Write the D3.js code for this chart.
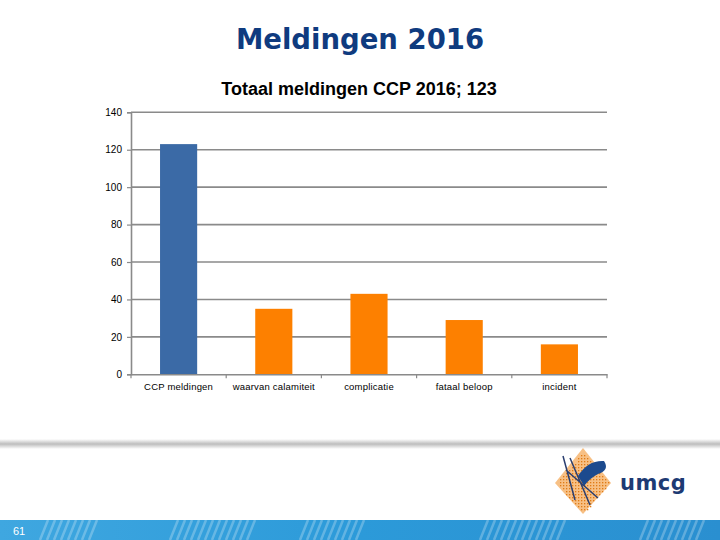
<!DOCTYPE html>
<html><head><meta charset="utf-8">
<script src="https://cdn.jsdelivr.net/npm/d3@7"></script>
<style>html,body{margin:0;padding:0;background:#fff;}svg{display:block;}</style>
</head><body>
<script>
const categories = ["CCP meldingen","waarvan calamiteit","complicatie","fataal beloop","incident"];
const values = [123, 35, 43, 29, 16];
const barColors = ["#3b6aa6","#fd8000","#fd8000","#fd8000","#fd8000"];
const yTicks = [0,20,40,60,80,100,120,140];
const title = "Meldingen 2016";
const subtitle = "Totaal meldingen CCP 2016; 123";
const pageNumber = "61";

const W=720,H=540;
const svg=d3.select("body").append("svg").attr("width",W).attr("height",H);
const defs=svg.append("defs");

const g1=defs.append("linearGradient").attr("id","band").attr("x1","0").attr("x2","1");
g1.append("stop").attr("offset","0").attr("stop-color","#3fa7e0");
g1.append("stop").attr("offset","0.5").attr("stop-color","#2c9ad9");
g1.append("stop").attr("offset","1").attr("stop-color","#2a8fd0");
const g2=defs.append("linearGradient").attr("id","shadow").attr("x1","0").attr("x2","0").attr("y1","0").attr("y2","1");
g2.append("stop").attr("offset","0").attr("stop-color","#ffffff");
g2.append("stop").attr("offset","0.5").attr("stop-color","#bdbdbd");
g2.append("stop").attr("offset","1").attr("stop-color","#ffffff");

svg.append("text").attr("x",360).attr("y",49).attr("text-anchor","middle")
  .attr("font-family","DejaVu Sans, Verdana, sans-serif").attr("font-weight","bold")
  .attr("font-size",27.5).attr("fill","#0f3b7f").text(title);
svg.append("text").attr("x",359).attr("y",95).attr("text-anchor","middle")
  .attr("font-family","Liberation Sans, Arial, sans-serif").attr("font-weight","bold")
  .attr("font-size",18).attr("fill","#000").text(subtitle);

const x=d3.scaleBand().domain(categories).range([131,607]).paddingInner(0.61).paddingOuter(0.305);
const y=d3.scaleLinear().domain([0,140]).range([374.3,112.3]);

svg.append("g").selectAll("line").data(yTicks.filter(d=>d>0)).join("line")
  .attr("x1",131).attr("x2",607).attr("y1",d=>y(d)).attr("y2",d=>y(d))
  .attr("stroke","#8a8a8a").attr("stroke-width",1.6);

svg.append("g").selectAll("rect").data(values).join("rect")
  .attr("x",(d,i)=>x(categories[i])).attr("width",x.bandwidth())
  .attr("y",d=>y(d)).attr("height",d=>y(0)-y(d))
  .attr("fill",(d,i)=>barColors[i]);

const ya=svg.append("g").attr("transform","translate(131,0)")
  .call(d3.axisLeft(y).tickValues(yTicks).tickSize(4).tickPadding(5).tickFormat(d3.format("d")));
ya.select(".domain").attr("stroke","#8a8a8a").attr("stroke-width",1.6);
ya.selectAll(".tick line").attr("stroke","#8a8a8a").attr("stroke-width",1.2);
ya.selectAll("text").attr("font-family","Liberation Sans, Arial, sans-serif").attr("font-size",10).attr("fill","#000");

const xa=svg.append("g").attr("transform","translate(0,374.3)")
  .call(d3.axisBottom(x).tickSize(0).tickPadding(9));
xa.select(".domain").attr("stroke","#8a8a8a").attr("stroke-width",1.6);
xa.selectAll("text").attr("font-family","Liberation Sans, Arial, sans-serif").attr("font-size",9.5)
  .attr("fill","#000").attr("letter-spacing","0.2px");
const step=x.step();
xa.append("g").selectAll("line").data(d3.range(categories.length+1)).join("line")
  .attr("x1",d=>131+d*step).attr("x2",d=>131+d*step).attr("y1",0).attr("y2",4)
  .attr("stroke","#8a8a8a").attr("stroke-width",1.2);

svg.append("rect").attr("x",0).attr("y",439).attr("width",W).attr("height",10).attr("fill","url(#shadow)");
svg.append("rect").attr("x",0).attr("y",520).attr("width",W).attr("height",20).attr("fill","url(#band)");
const stripes=svg.append("g").attr("opacity",0.25);
[[40,90],[170,250],[300,360],[480,560],[640,700]].forEach(([a,b])=>{
  for(let s=a;s<b;s+=7){stripes.append("line").attr("x1",s).attr("x2",s+8).attr("y1",540).attr("y2",520).attr("stroke","#ffffff").attr("stroke-width",2.5);}
});
svg.append("text").attr("x",13).attr("y",535).attr("font-family","Liberation Sans, Arial, sans-serif")
  .attr("font-size",11).attr("fill","#ffffff").text(pageNumber);

const logo=svg.append("g");
logo.append("path").attr("d","M583,448 L611,483 L583,514 L555,483 Z").attr("fill","#f6b978").attr("opacity",0.9);
for(let yy=452;yy<512;yy+=3){for(let xx=557;xx<610;xx+=3){
  const dx=Math.abs(xx-583)/28, dy=Math.abs(yy-483)/33;
  if(dx+dy<0.95) logo.append("rect").attr("x",xx).attr("y",yy).attr("width",1.3).attr("height",1.3).attr("fill","#e07b16");
}}
logo.append("path").attr("d","M578,476 Q588,460 604,461 Q610,470 598,474 Q590,478 584,486 Z").attr("fill","#1c4a8e");
logo.append("path").attr("d","M563,456 L575,500 M570,458 L590,505 M566,470 L598,498").attr("stroke","#2b3f70").attr("stroke-width",1.5).attr("fill","none");
svg.append("text").attr("x",620).attr("y",490).attr("font-family","DejaVu Sans, Verdana, sans-serif")
  .attr("font-weight","bold").attr("font-size",21).attr("fill","#1d3a73").attr("letter-spacing","0.5px").text("umcg");
</script>
</body></html>
